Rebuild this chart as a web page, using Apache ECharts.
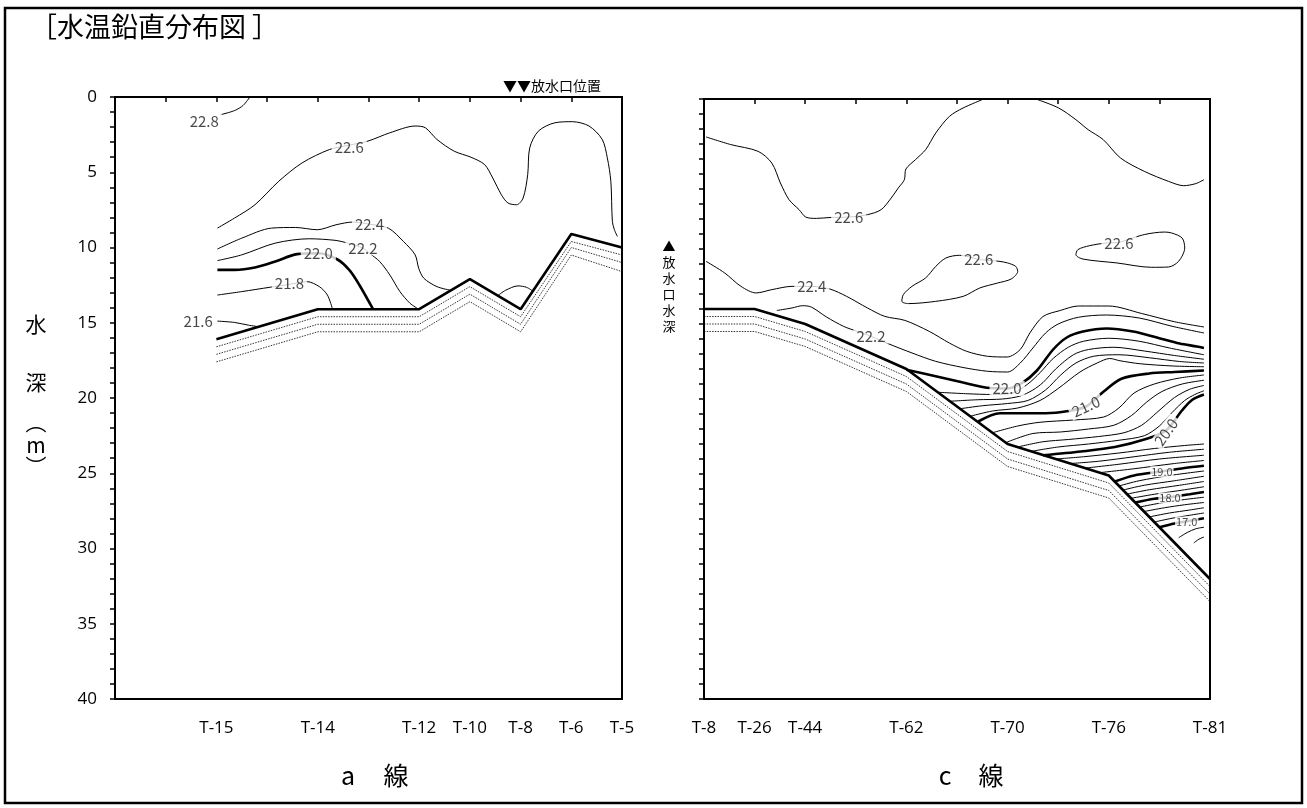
<!DOCTYPE html>
<html>
<head>
<meta charset="utf-8" />
<script src="https://cdn.jsdelivr.net/npm/echarts@6/dist/echarts.min.js"></script>
</head>
<body style="margin:0;background:#fff">
<div id="main" style="width:1307px;height:808px;"></div>
<script>
// 水温鉛直分布図 : a線 / c線 の断面（x = 測点の目盛位置 0..10, y = 水深 m）
var aTicks = ['', '', 'T-15', '', 'T-14', '', 'T-12', 'T-10', 'T-8', 'T-6', 'T-5'];
var cTicks = ['T-8', 'T-26', 'T-44', '', 'T-62', '', 'T-70', '', 'T-76', '', 'T-81'];
var depthLabels = [0, 5, 10, 15, 20, 25, 30, 35, 40];

// ---- a線 ----
var aBottom = [[2,16.1],[4,14.1],[6,14.1],[7,12.1],[8,14.1],[9,9.1],[10,10.0]];
var aDot1 = [[2,16.6],[4,14.6],[6,14.6],[7,12.6],[8,14.6],[9,9.6],[10,10.5]];
var aDot2 = [[2,17.1],[4,15.1],[6,15.1],[7,13.1],[8,15.1],[9,10.0],[10,11.0]];
var aDot3 = [[2,17.6],[4,15.6],[6,15.6],[7,13.6],[8,15.6],[9,10.5],[10,11.6]];

var a228 = [[2.08,1.18],[2.36,0.9],[2.53,0.55],[2.66,0]];
var a226 = [[2.02,8.71],[2.36,8.04],[2.76,7.16],[3.23,5.6],[3.69,4.38],[4.23,3.49],[4.62,3.2],[4.99,2.93],[5.42,2.38],[5.92,1.93],[6.12,2.04],[6.35,2.82],[6.69,3.6],[7.02,4.0],[7.29,4.49],[7.45,5.38],[7.62,6.49],[7.75,7.04],[7.92,7.16],[8.05,6.71],[8.14,5.16],[8.18,3.38],[8.35,2.27],[8.68,1.71],[9.02,1.64],[9.35,1.93],[9.61,2.82],[9.71,4.04],[9.78,5.6],[9.81,8.27],[9.85,8.82],[9.91,9.27]];
var a224 = [[2.02,10.1],[2.5,9.38],[3.09,8.71],[3.56,8.67],[3.99,8.82],[4.36,8.49],[4.69,8.31],[5.02,8.45],[5.39,8.71],[5.69,9.6],[5.92,10.49],[5.99,11.38],[6.09,12.04],[6.35,12.6],[6.63,12.85]];
var a224b = [[7.55,13.2],[7.7,12.85],[7.95,12.55],[8.12,12.65],[8.24,12.9]];
var a222 = [[2.02,10.87],[2.5,10.49],[3.16,9.71],[3.83,9.42],[4.36,9.53],[4.59,9.71],[4.89,10.04],[5.02,10.38],[5.22,10.93],[5.42,11.82],[5.62,12.93],[5.82,13.71],[5.99,14.1]];
var a220 = [[2.02,11.49],[2.36,11.49],[2.76,11.33],[3.16,10.93],[3.59,10.44],[4.01,10.38],[4.38,10.78],[4.62,11.49],[4.82,12.49],[5.09,14.1]];
var a218 = [[2.02,13.16],[2.5,12.93],[3.06,12.64],[3.44,12.45],[3.79,12.27],[4.03,12.6],[4.19,13.16],[4.29,14.1]];
var a216 = [[2.02,14.89],[2.36,14.98],[2.63,15.16],[2.85,15.27]];

var aLabels = [[1.76,1.6,'22.8'],[4.62,3.33,'22.6'],[5.02,8.49,'22.4'],[4.89,10.04,'22.2'],[4.01,10.38,'22.0'],[3.44,12.38,'21.8'],[1.64,14.93,'21.6']];

// ---- c線 ----
var cBottom = [[0,14],[1,14],[2,15],[4,18],[6,23],[8,25.1],[10,32]];
var cDot1 = [[0,14.5],[1,14.5],[2,15.5],[4,18.5],[6,23.5],[8,25.6],[10,32.5]];
var cDot2 = [[0,15.0],[1,15.0],[2,16.0],[4,19.0],[6,24.0],[8,26.1],[10,33.0]];
var cDot3 = [[0,15.5],[1,15.5],[2,16.5],[4,19.5],[6,24.5],[8,26.6],[10,33.5]];

var c226a = [[0.04,2.53],[0.53,3.04],[1.07,3.49],[1.34,4.27],[1.51,5.6],[1.68,6.71],[1.88,7.38],[2.01,7.87],[2.22,7.96],[2.49,7.9],[2.86,7.87],[3.23,7.71],[3.5,7.38],[3.7,6.6],[3.84,5.93],[3.96,5.38],[3.99,4.67],[4.18,4.04],[4.38,3.38],[4.58,2.27],[4.85,1.16],[5.12,0.6],[5.53,0]];
var c226b = [[6.6,0.05],[7.01,0.6],[7.35,1.38],[7.59,2.04],[7.89,2.71],[8.23,3.93],[8.7,4.82],[9.18,5.49],[9.48,5.78],[9.72,5.64],[9.88,5.38]];
var c226c = [[5.43,10.71],[5.05,10.42],[4.78,10.6],[4.58,11.16],[4.38,11.93],[4.11,12.49],[3.94,13.04],[3.91,13.49],[4.04,13.64],[4.58,13.49],[5.12,13.16],[5.45,12.6],[5.8,12.27],[6.07,12.0],[6.2,11.49],[6.16,11.16],[6.0,10.93],[5.83,10.82],[5.43,10.71]];
var c226d = [[8.2,9.58],[7.96,9.6],[7.62,9.78],[7.39,10.04],[7.35,10.38],[7.49,10.67],[8.16,10.93],[8.84,11.22],[9.18,11.2],[9.38,10.82],[9.5,9.93],[9.45,9.27],[9.24,8.93],[9.1,8.87],[8.7,9.04],[8.2,9.58]];
var c224 = [[0.04,10.82],[0.41,11.6],[0.73,12.49],[1.03,12.93],[1.34,12.71],[1.74,12.49],[2.13,12.49],[2.49,12.67],[2.82,13.16],[3.23,13.93],[3.57,14.49],[3.97,14.76],[4.45,15.49],[4.85,16.27],[5.19,16.82],[5.6,17.15],[5.99,17.2],[6.25,16.7],[6.44,15.6],[6.7,14.5],[7.04,14.1],[7.4,13.8],[8.0,13.8],[8.65,14.3],[9.3,14.85],[9.88,15.2]];
var c222 = [[1.44,14.1],[1.74,13.93],[1.95,13.78],[2.12,13.87],[2.42,14.53],[2.76,15.16],[3.03,15.49],[3.3,15.82],[3.64,16.31],[4.11,16.93],[4.58,17.49],[5.12,17.9],[5.6,18.15],[6.0,18.2],[6.25,17.6],[6.5,16.6],[6.75,15.6],[7.0,15.0],[7.4,14.55],[7.95,14.4],[8.6,14.6],[9.25,15.15],[9.88,15.6]];
var c220 = [[4.0,18.05],[4.6,18.5],[5.12,18.9],[5.59,19.25],[5.99,19.3],[6.3,18.9],[6.58,18.1],[6.9,16.7],[7.17,15.9],[7.49,15.5],[7.96,15.3],[8.48,15.5],[8.95,15.9],[9.4,16.3],[9.74,16.5],[9.88,16.6]];
var c218 = [[4.62,19.55],[5.2,19.65],[5.7,19.7],[6.1,19.6],[6.4,19.0],[6.64,18.25],[6.9,17.3],[7.2,16.55],[7.5,16.15],[8.0,15.95],[8.6,16.15],[9.2,16.6],[9.88,17.05]];
var c216 = [[4.86,20.15],[5.4,20.05],[5.9,20.0],[6.25,19.8],[6.5,19.4],[6.7,18.9],[6.95,18.0],[7.3,17.05],[7.6,16.7],[8.1,16.55],[8.7,16.8],[9.3,17.1],[9.88,17.35]];
var c214 = [[5.06,20.65],[5.5,20.45],[6.0,20.3],[6.4,20.1],[6.75,19.4],[7.05,18.4],[7.35,17.6],[7.7,17.15],[8.2,17.05],[8.8,17.25],[9.4,17.5],[9.88,17.6]];
var c212 = [[5.26,21.15],[5.7,20.8],[6.2,20.6],[6.64,20.1],[7.0,19.3],[7.43,18.2],[7.77,17.6],[8.02,17.3],[8.22,17.45],[8.62,17.65],[9.27,17.8],[9.88,17.85]];
var c210 = [[5.42,21.5],[5.85,20.95],[6.2,20.95],[6.75,20.95],[7.2,20.8],[7.55,20.5],[7.9,19.5],[8.25,18.65],[8.8,18.3],[9.3,18.2],[9.88,18.1]];
var c208 = [[5.7,22.25],[6.2,21.8],[6.64,21.55],[7.3,21.4],[7.9,21.2],[8.2,20.6],[8.5,19.6],[8.9,19.0],[9.4,18.6],[9.88,18.4]];
var c206 = [[5.97,22.9],[6.5,22.3],[7.04,22.2],[7.6,22.0],[8.1,21.75],[8.45,21.1],[8.75,20.2],[9.05,19.5],[9.45,19.0],[9.88,18.75]];
var c204 = [[6.2,23.2],[6.7,22.85],[7.2,22.7],[7.8,22.5],[8.3,22.25],[8.65,21.75],[8.95,20.9],[9.3,19.9],[9.6,19.35],[9.88,19.1]];
var c202 = [[6.45,23.5],[7.0,23.2],[7.6,23.0],[8.2,22.75],[8.7,22.45],[9.0,21.8],[9.25,20.9],[9.5,20.1],[9.7,19.7],[9.88,19.45]];
var c200 = [[6.7,23.75],[7.45,23.5],[8.12,23.2],[8.75,22.65],[9.13,22.1],[9.45,20.75],[9.65,20.05],[9.88,19.7]];
var c198 = [[6.95,24.0],[7.5,23.85],[8.2,23.6],[8.9,23.3],[9.5,23.1],[9.88,23.0]];
var c196 = [[7.25,24.3],[7.8,24.15],[8.5,23.85],[9.2,23.55],[9.88,23.35]];
var c194 = [[7.55,24.6],[8.2,24.35],[9.0,24.0],[9.88,23.75]];
var c192 = [[7.85,24.9],[8.5,24.65],[9.3,24.3],[9.88,24.1]];
var c190 = [[8.12,25.5],[8.5,25.1],[9.0,24.85],[9.5,24.6],[9.88,24.45]];
var c188 = [[8.2,25.8],[8.6,25.45],[9.2,25.1],[9.88,24.8]];
var c186 = [[8.28,26.07],[8.7,25.75],[9.3,25.45],[9.88,25.15]];
var c184 = [[8.36,26.34],[8.8,26.05],[9.4,25.75],[9.88,25.5]];
var c182 = [[8.44,26.62],[8.9,26.35],[9.5,26.05],[9.88,25.85]];
var c180 = [[8.52,26.9],[8.9,26.65],[9.21,26.55],[9.6,26.35],[9.88,26.2]];
var c178 = [[8.61,27.2],[9.0,26.95],[9.5,26.7],[9.88,26.55]];
var c176 = [[8.7,27.5],[9.1,27.25],[9.5,27.05],[9.88,26.9]];
var c174 = [[8.8,27.86],[9.2,27.6],[9.6,27.4],[9.88,27.25]];
var c172 = [[8.9,28.2],[9.25,27.95],[9.6,27.75],[9.88,27.6]];
var c170 = [[9.0,28.55],[9.3,28.3],[9.54,28.15],[9.88,27.95]];
var c168 = [[9.38,29.25],[9.55,28.9],[9.72,28.65],[9.88,28.55]];
var c166 = [[9.68,29.6],[9.78,29.35],[9.88,29.2]];

var cLabels = [[2.86,7.87,'22.6'],[5.43,10.71,'22.6'],[8.2,9.6,'22.6'],[2.13,12.49,'22.4'],[3.3,15.82,'22.2'],[5.99,19.3,'22.0'],[7.55,20.5,'21.0'],[9.13,22.2,'20.0']];
var cSmallLabels = [[9.05,24.85,'19.0'],[9.21,26.6,'18.0'],[9.54,28.2,'17.0']];
var labelRotate = { '21.0': 25, '20.0': 55 };

var FONT = '"Noto Sans CJK JP", "Noto Sans", sans-serif';
var NUMFONT = '"Open Sans", "Noto Sans", sans-serif';
var myChart = echarts.init(document.getElementById('main'));

function line(idx, data, width, dash, smooth) {
  return {
    type: 'line', xAxisIndex: idx, yAxisIndex: idx, data: data,
    symbol: 'none', smooth: smooth === undefined ? 0.3 : smooth, silent: true,
    lineStyle: { color: '#000', width: width, type: dash || 'solid' },
    z: 2
  };
}
function labels(idx, list, size, pad) {
  return {
    type: 'scatter', xAxisIndex: idx, yAxisIndex: idx, symbolSize: 1, silent: true,
    itemStyle: { color: 'rgba(0,0,0,0)' }, z: 5,
    data: list.map(function (p) {
      return { value: [p[0], p[1]], name: p[2], label: { rotate: labelRotate[p[2]] || 0 } };
    }),
    label: {
      show: true, position: 'inside', formatter: '{b}', color: '#1a1a1a',
      fontSize: size, fontFamily: FONT, backgroundColor: '#fff', padding: pad
    }
  };
}

var thin = 1, thick = 2.6, dots = [1.5, 1.2];
var series = [
  line(0, aBottom, thick, null, 0), line(0, aDot1, 0.8, dots, 0), line(0, aDot2, 0.8, dots, 0), line(0, aDot3, 0.8, dots, 0),
  line(0, a228, thin), line(0, a226, thin), line(0, a224, thin), line(0, a224b, thin),
  line(0, a222, thin), line(0, a220, thick), line(0, a218, thin), line(0, a216, thin),
  labels(0, aLabels, 15, [0, 3]),

  line(1, cBottom, thick, null, 0), line(1, cDot1, 0.8, dots, 0), line(1, cDot2, 0.8, dots, 0), line(1, cDot3, 0.8, dots, 0),
  line(1, c226a, thin), line(1, c226b, thin), line(1, c226c, thin), line(1, c226d, thin),
  line(1, c224, thin), line(1, c222, thin), line(1, c220, thick), line(1, c218, thin),
  line(1, c216, thin), line(1, c214, thin), line(1, c212, thin), line(1, c210, thick),
  line(1, c208, thin), line(1, c206, thin), line(1, c204, thin), line(1, c202, thin),
  line(1, c200, thick), line(1, c198, thin), line(1, c196, thin), line(1, c194, thin),
  line(1, c192, thin), line(1, c190, thick), line(1, c188, thin), line(1, c186, thin),
  line(1, c184, thin), line(1, c182, thin), line(1, c180, thick), line(1, c178, thin),
  line(1, c176, thin), line(1, c174, thin), line(1, c172, thin), line(1, c170, thick),
  line(1, c168, thin), line(1, c166, thin),
  labels(1, cLabels, 15, [0, 3]),
  labels(1, cSmallLabels, 11, [0, 1])
];

function xAxis(idx, ticks) {
  return {
    type: 'value', gridIndex: idx, min: 0, max: 10, interval: 1,
    axisLine: { lineStyle: { color: '#000', width: 2 } },
    axisTick: { length: 5, lineStyle: { color: '#000', width: 1.5 } },
    splitLine: { show: false },
    axisLabel: {
      color: '#000', fontSize: 17, fontFamily: NUMFONT, margin: 21,
      formatter: function (v) { return ticks[Math.round(v)] || ''; }
    }
  };
}
function yAxis(idx, showLabel) {
  return {
    type: 'value', gridIndex: idx, min: 0, max: 40, interval: 1, inverse: true,
    axisLine: { lineStyle: { color: '#000', width: 2 } },
    axisTick: { length: 5, lineStyle: { color: '#000', width: 1.5 } },
    splitLine: { show: false },
    axisLabel: {
      show: showLabel, color: '#000', fontSize: 17, fontFamily: NUMFONT, margin: 18,
      formatter: function (v) { return depthLabels.indexOf(v) >= 0 ? String(v) : ''; }
    }
  };
}

function txt(x, y, s, size, extra) {
  var st = { text: s, fontSize: size, fontFamily: FONT, fill: '#000', align: 'center', verticalAlign: 'middle', textAlign: 'center', textVerticalAlign: 'middle' };
  for (var k in (extra || {})) st[k] = extra[k];
  return { type: 'text', x: x, y: y, silent: true, style: st };
}

option = {
  animation: false,
  backgroundColor: '#fff',
  grid: [
    { left: 115, top: 97, width: 507, height: 602, show: true, borderColor: '#000', borderWidth: 2 },
    { left: 704, top: 99, width: 506, height: 600, show: true, borderColor: '#000', borderWidth: 2 }
  ],
  xAxis: [xAxis(0, aTicks), xAxis(1, cTicks)],
  yAxis: [yAxis(0, true), yAxis(1, false)],
  series: series,
  graphic: [
    { type: 'rect', silent: true, shape: { x: 5, y: 8, width: 1297, height: 795 }, style: { fill: 'none', stroke: '#000', lineWidth: 2.5 } },
    txt(30, 27, '［水温鉛直分布図 ］', 27, { align: 'left', textAlign: 'left' }),
    txt(503, 86, '▼▼放水口位置', 14, { align: 'left', textAlign: 'left' }),
    txt(669, 286, '▲\n放\n水\n口\n水\n深', 13, { lineHeight: 16 }),
    txt(36, 324, '水', 21),
    txt(36, 382, '深', 21),
    txt(36, 422, '︵', 21),
    txt(36, 445, 'm', 21),
    txt(36, 466, '︶', 21),
    txt(348, 775, 'a', 25),
    txt(396, 775, '線', 25),
    txt(945, 775, 'c', 25),
    txt(991, 775, '線', 25)
  ]
};

myChart.setOption(option);
</script>
</body>
</html>
